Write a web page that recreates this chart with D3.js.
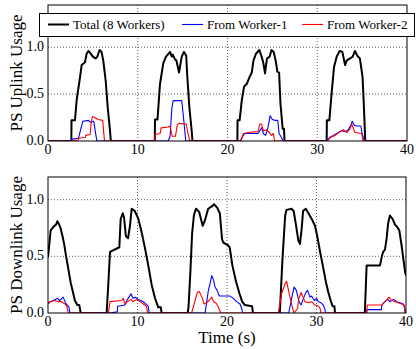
<!DOCTYPE html>
<html>
<head>
<meta charset="utf-8">
<script src="https://cdn.jsdelivr.net/npm/d3@7"></script>
<style>
    body { margin: 0; background: #fff; }
    svg { display: block; font-family: "Liberation Serif", "DejaVu Serif", serif; }
</style>
</head>
<body>
<svg id="chart" width="416" height="349"></svg>
<script>
// time (s), usage
const upTotal = [
    [0, 0], [2.6, 0], [2.62, 0.22], [3.0, 0.22], [3.2, 0.44], [3.57, 0.68], [3.75, 0.81], [4.12, 0.84], [4.3, 0.93], [4.5, 0.96],
    [4.7, 0.94], [5.0, 0.9], [5.3, 0.88], [5.5, 0.9], [5.75, 0.97], [5.97, 0.95], [6.17, 0.85], [6.43, 0.64], [6.65, 0.36], [6.9, 0.12], [7.0, 0],
    [11.9, 0], [11.92, 0.23], [12.2, 0.23], [12.48, 0.61], [12.85, 0.83], [13.15, 0.9], [13.6, 0.95], [13.8, 0.9], [13.9, 0.92], [14.15, 0.87],
    [14.3, 0.86], [14.6, 0.73], [14.9, 0.9], [15.15, 0.95], [15.4, 0.91], [15.5, 0.72], [15.75, 0.36], [16.0, 0.12], [16.1, 0],
    [21.1, 0], [21.12, 0.22], [21.35, 0.22], [21.6, 0.44], [21.85, 0.58], [22.15, 0.61], [22.45, 0.68], [22.7, 0.73], [22.9, 0.86], [23.17, 0.93],
    [23.55, 0.97], [23.8, 0.9], [24.0, 0.83], [24.18, 0.72], [24.4, 0.88], [24.7, 0.9], [24.9, 0.97], [25.15, 0.95], [25.4, 0.84], [25.55, 0.74],
    [25.75, 0.73], [25.9, 0.4], [26.15, 0.13], [26.3, 0.13], [26.35, 0],
    [31.05, 0], [31.07, 0.22], [31.35, 0.22], [31.6, 0.51], [31.87, 0.79], [32.17, 0.9], [32.5, 0.96], [32.8, 0.95], [33.1, 0.81], [33.3, 0.86],
    [33.65, 0.88], [33.95, 0.9], [34.2, 0.96], [34.45, 0.91], [34.75, 0.88], [35.05, 0.68], [35.2, 0.36], [35.35, 0], [40, 0]
];
const upWorker1 = [
    [0, 0], [2.6, 0], [2.67, 0.02], [3.4, 0.03], [3.87, 0.21], [4.5, 0.22], [4.7, 0.2], [5.1, 0.21], [5.27, 0.1], [5.45, 0],
    [13.4, 0], [13.6, 0.05], [13.8, 0.35], [13.95, 0.43], [14.9, 0.43], [15.1, 0.25], [15.35, 0],
    [21.4, 0], [21.76, 0.06], [21.95, 0.08], [23.4, 0.08], [23.6, 0.11], [23.8, 0.14], [24.0, 0.08], [24.25, 0.06], [24.5, 0.14], [24.75, 0.27],
    [25.0, 0.23], [25.3, 0.22], [25.6, 0.22], [25.75, 0.08], [26.0, 0.04], [26.2, 0],
    [31.05, 0], [31.4, 0.04], [31.8, 0.06], [32.35, 0.09], [32.7, 0.11], [33.1, 0.1], [33.45, 0.12], [33.75, 0.17], [33.9, 0.21], [34.1, 0.17],
    [34.35, 0.16], [34.85, 0.16], [35.0, 0.08], [35.25, 0], [40, 0]
];
const upWorker2 = [
    [0, 0], [2.67, 0], [3.3, 0.01], [3.5, 0.03], [4.16, 0.04], [4.2, 0.06], [4.7, 0.07], [4.83, 0.21], [4.97, 0.26], [5.2, 0.25], [5.57, 0.23],
    [6.1, 0.22], [6.2, 0.1], [6.3, 0],
    [11.9, 0], [11.92, 0.07], [12.5, 0.08], [12.6, 0.14], [13.4, 0.15], [13.6, 0.16], [13.85, 0.05], [14.2, 0.05], [14.4, 0.17], [14.6, 0.19],
    [15.4, 0.18], [15.6, 0.08], [15.8, 0],
    [21.5, 0], [21.76, 0.08], [22.3, 0.09], [23.4, 0.1], [23.6, 0.18], [23.8, 0.18], [24.0, 0.11], [24.35, 0.12], [24.75, 0.08], [24.9, 0.06],
    [25.1, 0.08], [25.25, 0],
    [31.15, 0], [31.5, 0.04], [32.0, 0.06], [32.55, 0.1], [32.9, 0.12], [33.3, 0.09], [33.65, 0.13], [33.85, 0.18], [34.0, 0.14], [34.2, 0.09],
    [34.95, 0.08], [35.1, 0], [40, 0]
];

const downTotal = [
    [0, 0.49], [0.3, 0.73], [0.6, 0.76], [0.9, 0.78], [1.04, 0.81], [1.25, 0.78], [1.4, 0.75], [1.64, 0.67], [1.8, 0.61], [2.0, 0.51],
    [2.27, 0.39], [2.53, 0.27], [2.83, 0.17], [3.0, 0.11], [3.28, 0.07], [3.5, 0.07], [3.65, 0],
    [6.55, 0], [6.7, 0.2], [6.93, 0.54], [7.97, 0.58], [8.12, 0.83], [8.35, 0.88], [8.5, 0.84], [8.7, 0.68], [8.95, 0.66], [9.16, 0.77],
    [9.35, 0.92], [9.7, 0.9], [10.1, 0.83], [10.47, 0.71], [10.84, 0.57], [11.2, 0.42], [11.58, 0.25], [11.96, 0.13], [12.32, 0.05],
    [12.6, 0.05], [12.7, 0],
    [15.6, 0], [15.7, 0.05], [15.9, 0.35], [16.1, 0.7], [16.3, 0.86], [16.4, 0.89], [16.55, 0.92], [16.9, 0.89], [17.28, 0.77], [17.5, 0.81],
    [17.9, 0.92], [18.3, 0.94], [18.55, 0.96], [18.9, 0.93], [19.2, 0.88], [19.45, 0.65], [19.6, 0.62], [20.1, 0.6], [20.3, 0.58],
    [20.6, 0.42], [21.0, 0.28], [21.4, 0.17], [21.7, 0.1], [22.0, 0.07], [22.8, 0.06], [22.9, 0],
    [25.9, 0], [26.2, 0.48], [26.5, 0.86], [26.65, 0.91], [27.2, 0.92], [27.45, 0.9], [27.7, 0.78], [27.97, 0.64], [28.15, 0.61], [28.35, 0.75],
    [28.5, 0.9], [28.8, 0.92], [29.1, 0.88], [29.46, 0.83], [29.83, 0.77], [30.1, 0.67], [30.4, 0.54], [30.7, 0.42], [31.06, 0.27],
    [31.3, 0.19], [31.58, 0.11], [31.8, 0.06], [32.0, 0.06], [32.07, 0],
    [35.4, 0], [35.6, 0.42], [37.1, 0.42], [37.3, 0.5], [37.45, 0.54], [37.65, 0.56], [37.84, 0.66], [38.0, 0.79], [38.2, 0.86], [38.5, 0.83],
    [38.77, 0.78], [39.0, 0.76], [39.25, 0.73], [39.5, 0.6], [39.7, 0.48], [39.9, 0.36], [40, 0.33]
];
const downWorker1 = [
    [0, 0.08], [0.3, 0.1], [0.6, 0.11], [1.08, 0.13], [1.3, 0.11], [1.7, 0.14], [1.95, 0.09], [2.35, 0.05], [2.45, 0],
    [6.9, 0], [7.75, 0.01], [7.78, 0.06], [8.6, 0.07], [8.8, 0.11], [9.05, 0.14], [9.27, 0.17], [9.5, 0.13], [9.77, 0.14], [10.05, 0.12],
    [10.4, 0.11], [10.8, 0.09], [11.2, 0.06], [11.3, 0],
    [17.55, 0], [17.7, 0.08], [17.9, 0.19], [18.1, 0.26], [18.3, 0.33], [18.5, 0.29], [18.66, 0.23], [18.9, 0.2], [19.14, 0.15], [20.33, 0.15],
    [20.5, 0.14], [20.7, 0.13], [21.08, 0.1], [21.45, 0.08], [21.64, 0.04], [21.75, 0],
    [26.9, 0], [27.2, 0.12], [27.5, 0.23], [27.75, 0.2], [28.05, 0.1], [28.27, 0.07], [28.5, 0.12], [28.8, 0.18], [29.0, 0.2], [29.27, 0.14],
    [29.45, 0.15], [29.76, 0.11], [30.0, 0.13], [30.2, 0.1], [30.5, 0.09], [30.77, 0.07], [30.95, 0.03], [31.0, 0],
    [35.6, 0], [35.65, 0.03], [37.25, 0.03], [37.3, 0.07], [37.65, 0.1], [37.95, 0.12], [38.2, 0.1], [38.6, 0.12], [38.95, 0.1],
    [39.33, 0.09], [39.7, 0.08], [39.85, 0.04], [39.95, 0]
];
const downWorker2 = [
    [0, 0.08], [0.15, 0.1], [0.78, 0.11], [1.15, 0.1], [1.5, 0.1], [1.9, 0.08], [2.1, 0.06], [2.27, 0],
    [6.74, 0], [6.93, 0.1], [8.23, 0.11], [8.4, 0.13], [8.6, 0.08], [8.9, 0.1], [9.27, 0.12], [9.5, 0.1], [9.9, 0.12], [10.3, 0.1],
    [10.65, 0.08], [11.0, 0.06], [11.13, 0],
    [16.05, 0], [16.4, 0.1], [16.68, 0.18], [16.9, 0.19], [17.2, 0.14], [17.43, 0.08], [17.7, 0.09], [18.0, 0.11], [18.3, 0.14], [18.5, 0.1],
    [18.75, 0.09], [19.0, 0.06], [19.2, 0.02], [19.3, 0],
    [25.73, 0], [26.1, 0.17], [26.5, 0.26], [26.66, 0.28], [26.9, 0.19], [27.15, 0.1], [27.4, 0.02], [27.5, 0], [27.9, 0.04], [28.0, 0.12],
    [28.27, 0.18], [28.5, 0.14], [28.7, 0.1], [29.1, 0.09], [29.45, 0.1], [29.83, 0.07], [30.2, 0.06], [30.4, 0.04], [30.5, 0],
    [35.6, 0], [35.68, 0.07], [37.3, 0.07], [37.5, 0.09], [37.9, 0.12], [38.1, 0.14], [38.4, 0.11], [38.8, 0.1], [39.15, 0.09],
    [39.5, 0.08], [39.8, 0.07], [39.9, 0]
];

const xTicks = [0, 10, 20, 30, 40];
const yTicks = [0, 0.5, 1.0];
const legendLabels = ["Total (8 Workers)", "From Worker-1", "From Worker-2"];
const seriesColors = ["#000000", "#0000ff", "#ff0000"];

const svg = d3.select("#chart");

// one panel = frame, dotted grid, three lines
function drawPanel(opts) {
    const m = opts.box;
    const x = d3.scaleLinear().domain([0, 40]).range([m.left, m.right]);
    const y = d3.scaleLinear().domain([0, opts.yMax]).range([m.bottom, m.top]);

    const g = svg.append("g");

    g.append("clipPath").attr("id", opts.id + "-clip")
        .append("rect")
        .attr("x", m.left).attr("y", m.top)
        .attr("width", m.right - m.left).attr("height", m.bottom - m.top);

    // grid
    g.selectAll(".vgrid")
        .data(xTicks.slice(1, -1))
        .enter().append("line")
        .attr("x1", d => x(d)).attr("x2", d => x(d))
        .attr("y1", m.top).attr("y2", m.bottom)
        .attr("stroke", "#333").attr("stroke-width", 0.8)
        .attr("stroke-dasharray", "1,2");
    g.selectAll(".hgrid")
        .data(yTicks.slice(1))
        .enter().append("line")
        .attr("x1", m.left).attr("x2", m.right)
        .attr("y1", d => y(d)).attr("y2", d => y(d))
        .attr("stroke", "#333").attr("stroke-width", 0.8)
        .attr("stroke-dasharray", "1,2");

    const line = d3.line().x(d => x(d[0])).y(d => y(d[1]));

    g.append("g").attr("clip-path", "url(#" + opts.id + "-clip)")
        .selectAll("path")
        .data(opts.series)
        .enter().append("path")
        .attr("d", d => line(d))
        .attr("fill", "none")
        .attr("stroke", (d, i) => seriesColors[i])
        .attr("stroke-width", (d, i) => i == 0 ? 2 : 1.1)
        .attr("stroke-linejoin", "round");

    // frame on top
    g.append("rect")
        .attr("x", m.left).attr("y", m.top)
        .attr("width", m.right - m.left).attr("height", m.bottom - m.top)
        .attr("fill", "none").attr("stroke", "#000").attr("stroke-width", 1);

    // tick labels
    g.selectAll(".xt")
        .data(xTicks)
        .enter().append("text")
        .text(d => d)
        .attr("x", d => x(d))
        .attr("y", m.bottom + 13)
        .attr("text-anchor", "middle")
        .attr("font-size", "14px");
    g.selectAll(".yt")
        .data(yTicks)
        .enter().append("text")
        .text(d => d3.format(".1f")(d))
        .attr("x", m.left - 4)
        .attr("y", d => y(d) + 4)
        .attr("text-anchor", "end")
        .attr("font-size", "14px");

    g.append("text")
        .text(opts.yLabel)
        .attr("transform", "translate(22," + ((m.top + m.bottom) / 2) + ") rotate(-90)")
        .attr("text-anchor", "middle")
        .attr("font-size", "17px");

    return {x: x, y: y};
}

drawPanel({
    id: "up",
    box: {left: 48, right: 407, top: 5, bottom: 141},
    yMax: 1.45,
    series: [upTotal, upWorker1, upWorker2],
    yLabel: "PS Uplink Usage"
});

drawPanel({
    id: "down",
    box: {left: 48, right: 406, top: 177, bottom: 313},
    yMax: 1.2,
    series: [downTotal, downWorker1, downWorker2],
    yLabel: "PS Downlink Usage"
});

svg.append("text")
    .text("Time (s)")
    .attr("x", 227).attr("y", 343)
    .attr("text-anchor", "middle")
    .attr("font-size", "17px");

// legend box sits across the top panel
const legend = svg.append("g");
legend.append("rect")
    .attr("x", 39.5).attr("y", 13.5)
    .attr("width", 375).attr("height", 23)
    .attr("fill", "#fff").attr("stroke", "#000").attr("stroke-width", 1);

const legendX = [48, 182, 302];
legend.selectAll(".item")
    .data(legendLabels)
    .enter().append("g")
    .each(function(d, i) {
        let item = d3.select(this);
        item.append("line")
            .attr("x1", legendX[i]).attr("x2", legendX[i] + 21)
            .attr("y1", 24.5).attr("y2", 24.5)
            .attr("stroke", seriesColors[i])
            .attr("stroke-width", i == 0 ? 2 : 1.1);
        item.append("text")
            .text(d)
            .attr("x", legendX[i] + 25)
            .attr("y", 29)
            .attr("font-size", "13px");
    });
</script>
</body>
</html>
